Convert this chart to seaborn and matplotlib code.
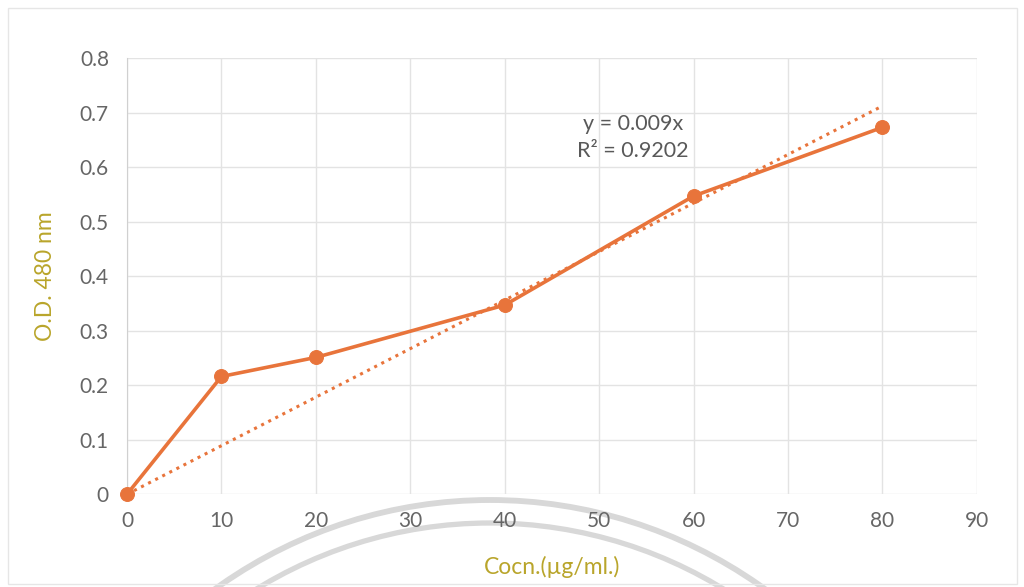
import numpy as np
import pandas as pd
import matplotlib
matplotlib.use("Agg")
import matplotlib.pyplot as plt
import seaborn as sns
from matplotlib.patches import Arc, Rectangle

# Data
conc = [0, 10, 20, 40, 60, 80]
od = [0.0, 0.216, 0.251, 0.347, 0.547, 0.673]
x_ticks = [0, 10, 20, 30, 40, 50, 60, 70, 80, 90]
y_ticks = [0, 0.1, 0.2, 0.3, 0.4, 0.5, 0.6, 0.7, 0.8]
eq_text = "y = 0.009x\nR² = 0.9202"
xlabel = "Cocn.(µg/ml.)"
ylabel = "O.D. 480 nm"

sns.set_style("white")
plt.rcParams['font.family'] = ['Lato', 'DejaVu Sans']

df = pd.DataFrame({"conc": conc, "od": od})
x = np.array(conc, float)
y = np.array(od, float)
slope = (x * y).sum() / (x * x).sum()
trend = pd.DataFrame({"conc": [x.min(), x.max()], "od": [slope * x.min(), slope * x.max()]})

fig = plt.figure(figsize=(10.24, 5.87), dpi=100)
ax = fig.add_axes([0.124, 0.158, 0.830, 0.743])
ax.set_facecolor("none")

orange = "#E8743B"
sns.lineplot(data=trend, x="conc", y="od", ax=ax, color=orange, linestyle=(0, (1, 1.6)),
             linewidth=2.2, zorder=2)
sns.lineplot(data=df, x="conc", y="od", ax=ax, color=orange, linewidth=2.6,
             marker="o", markersize=10, markeredgecolor=orange, zorder=3, clip_on=False)

ax.set_xlim(0, 90)
ax.set_ylim(0, 0.8)
ax.set_xticks(x_ticks)
ax.set_yticks(y_ticks)
ax.set_xticklabels([str(t) for t in x_ticks])
ax.set_yticklabels(["0" if t == 0 else f"{t:.1f}" for t in y_ticks])
ax.tick_params(axis="x", labelsize=15, colors="#666666", length=0, pad=12)
ax.tick_params(axis="y", labelsize=15, colors="#666666", length=0, pad=13)
ax.grid(True, color="#E3E3E3", linewidth=1)
for s in ["top", "right", "bottom"]:
    ax.spines[s].set_visible(False)
ax.spines["left"].set_color("#D0D0D0")

label_color = "#B9A52B"
ax.set_xlabel(xlabel, fontsize=16.5, color=label_color, labelpad=18)
ax.set_ylabel(ylabel, fontsize=16.5, color=label_color, labelpad=17)

ax.text(53.6, 0.655, eq_text, fontsize=15.5, color="#595959",
        ha="center", va="center", linespacing=1.45)

# outer chart border
fig.patches.append(Rectangle((0.008, 0.005), 0.985, 0.982, transform=fig.transFigure,
                             fill=False, edgecolor="#E6E6E6", linewidth=1))

# faint watermark arcs at the bottom
for r, lw in [(4.69, 4.2), (4.46, 3.8)]:
    arc = Arc((4.90, -3.82), 2 * r, 2 * r, theta1=20, theta2=160,
              transform=fig.dpi_scale_trans, color="#D8D8D8", linewidth=lw, zorder=-1)
    fig.patches.append(arc)

fig.savefig("out.png", dpi=100, facecolor="white")
